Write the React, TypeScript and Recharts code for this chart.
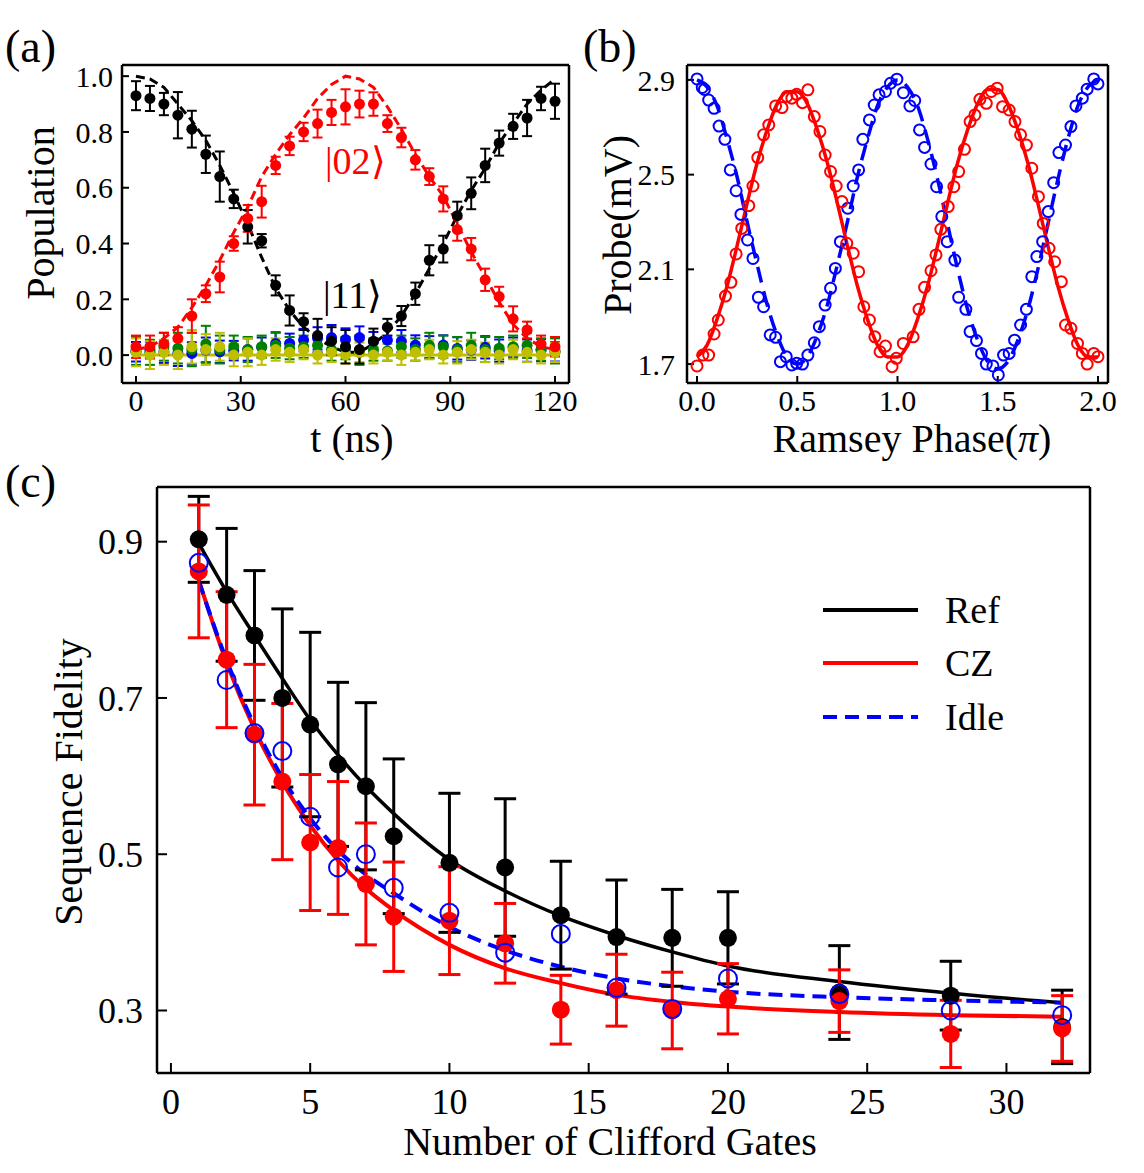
import React from "react";
import { ComposedChart, Line, Scatter, ErrorBar, XAxis, YAxis, Legend } from "recharts";

const FONT = "'Liberation Serif', 'Times New Roman', Times, serif";
const RED = "#ff0000";
const BLUE = "#0000ff";
const GREEN = "#008000";
const OLIVE = "#bfbf00";

// ---- (a) swap oscillation |11> <-> |02>
const tNs = [0, 4, 8, 12, 16, 20, 24, 28, 32, 36, 40, 44, 48, 52, 56, 60, 64, 68, 72, 76, 80, 84, 88, 92, 96, 100, 104, 108, 112, 116, 120];
const pop11 = [0.93, 0.92, 0.9, 0.86, 0.81, 0.72, 0.64, 0.56, 0.46, 0.41, 0.25, 0.16, 0.12, 0.07, 0.05, 0.03, 0.02, 0.05, 0.1, 0.14, 0.22, 0.34, 0.38, 0.5, 0.58, 0.68, 0.76, 0.82, 0.85, 0.92, 0.91];
const err11 = [0.052, 0.045, 0.04, 0.083, 0.066, 0.067, 0.09, 0.033, 0.06, 0.024, 0.036, 0.054, 0.03, 0.06, 0.05, 0.06, 0.05, 0.045, 0.03, 0.036, 0.04, 0.054, 0.048, 0.05, 0.057, 0.06, 0.045, 0.045, 0.065, 0.042, 0.063];
const pop02 = [0.03, 0.03, 0.04, 0.06, 0.14, 0.22, 0.28, 0.4, 0.49, 0.55, 0.68, 0.75, 0.8, 0.83, 0.87, 0.89, 0.9, 0.9, 0.83, 0.78, 0.7, 0.64, 0.56, 0.45, 0.38, 0.27, 0.21, 0.13, 0.09, 0.04, 0.03];
const err02 = [0.04, 0.04, 0.04, 0.04, 0.06, 0.03, 0.055, 0.026, 0.048, 0.057, 0.031, 0.033, 0.033, 0.05, 0.045, 0.063, 0.048, 0.042, 0.03, 0.035, 0.035, 0.03, 0.045, 0.04, 0.04, 0.04, 0.035, 0.045, 0.03, 0.03, 0.035];
const fit11 = [1.0, 0.99, 0.96, 0.9, 0.84, 0.77, 0.68, 0.58, 0.47, 0.35, 0.24, 0.16, 0.1, 0.06, 0.03, 0.01, 0.01, 0.04, 0.08, 0.14, 0.22, 0.31, 0.4, 0.5, 0.59, 0.67, 0.76, 0.83, 0.9, 0.95, 0.99];
const fit02 = [0.02, 0.03, 0.06, 0.1, 0.17, 0.25, 0.34, 0.44, 0.53, 0.64, 0.72, 0.79, 0.85, 0.92, 0.97, 1.0, 0.99, 0.96, 0.89, 0.81, 0.72, 0.64, 0.57, 0.47, 0.37, 0.28, 0.19, 0.11, 0.06, 0.03, 0.02];
const popBlue = [0.012, 0.018, 0.012, 0.006, 0.006, 0.018, 0.012, 0.016, 0.02, 0.028, 0.042, 0.042, 0.054, 0.06, 0.063, 0.056, 0.063, 0.048, 0.054, 0.05, 0.036, 0.028, 0.036, 0.024, 0.018, 0.028, 0.016, 0.028, 0.016, 0.018, 0.012];
const errBlue = [0.035, 0.03, 0.04, 0.045, 0.04, 0.045, 0.04, 0.035, 0.04, 0.035, 0.04, 0.035, 0.04, 0.04, 0.045, 0.04, 0.04, 0.035, 0.04, 0.04, 0.035, 0.04, 0.035, 0.04, 0.035, 0.04, 0.04, 0.035, 0.04, 0.04, 0.035];
const popGreen = [0.015, 0.01, 0.03, 0.025, 0.02, 0.04, 0.02, 0.03, 0.02, 0.03, 0.035, 0.025, 0.03, 0.035, 0.02, 0.025, 0.01, 0.02, 0.015, 0.03, 0.02, 0.035, 0.03, 0.02, 0.035, 0.02, 0.025, 0.03, 0.035, 0.02, 0.015];
const errGreen = [0.05, 0.045, 0.05, 0.055, 0.06, 0.065, 0.05, 0.04, 0.045, 0.04, 0.045, 0.04, 0.04, 0.035, 0.04, 0.04, 0.045, 0.04, 0.035, 0.04, 0.04, 0.045, 0.04, 0.045, 0.045, 0.045, 0.04, 0.04, 0.045, 0.04, 0.045];
const popYellow = [0.01, 0.0, 0.01, 0.0, 0.03, 0.02, 0.03, 0.0, 0.01, 0.0, 0.02, 0.01, 0.02, 0.0, 0.01, 0.0, 0.01, 0.0, 0.01, 0.0, 0.01, 0.02, 0.0, 0.01, 0.02, 0.01, 0.0, 0.02, 0.01, 0.0, 0.01];
const errYellow = [0.05, 0.05, 0.045, 0.05, 0.06, 0.055, 0.05, 0.04, 0.05, 0.035, 0.04, 0.035, 0.035, 0.03, 0.035, 0.03, 0.035, 0.03, 0.03, 0.035, 0.03, 0.035, 0.03, 0.04, 0.035, 0.035, 0.03, 0.035, 0.035, 0.03, 0.035];
const leakT = [0, 120];
const leakFit = [0.0, 0.0];

// ---- (b) Ramsey fringes
const redPhase = [0, 0.029, 0.058, 0.085, 0.106, 0.142, 0.169, 0.195, 0.223, 0.258, 0.279, 0.303, 0.332, 0.358, 0.392, 0.424, 0.448, 0.473, 0.497, 0.526, 0.553, 0.585, 0.613, 0.639, 0.666, 0.694, 0.723, 0.747, 0.779, 0.806, 0.832, 0.86, 0.887, 0.913, 0.94, 0.973, 0.994, 1.029, 1.078, 1.107, 1.135, 1.167, 1.192, 1.216, 1.253, 1.281, 1.305, 1.334, 1.362, 1.386, 1.411, 1.443, 1.468, 1.497, 1.524, 1.557, 1.586, 1.614, 1.643, 1.67, 1.703, 1.727, 1.756, 1.784, 1.817, 1.838, 1.865, 1.898, 1.922, 1.946, 1.979, 2.0];
const redProbe = [1.692, 1.738, 1.738, 1.827, 1.886, 1.987, 2.045, 2.165, 2.273, 2.369, 2.452, 2.572, 2.668, 2.71, 2.79, 2.783, 2.83, 2.823, 2.839, 2.804, 2.858, 2.745, 2.682, 2.583, 2.513, 2.452, 2.386, 2.21, 2.168, 2.09, 1.942, 1.886, 1.815, 1.752, 1.776, 1.689, 1.724, 1.787, 1.815, 1.931, 2.024, 2.094, 2.161, 2.269, 2.365, 2.449, 2.513, 2.607, 2.724, 2.752, 2.818, 2.801, 2.851, 2.865, 2.787, 2.773, 2.724, 2.668, 2.625, 2.527, 2.407, 2.294, 2.189, 2.132, 2.048, 1.865, 1.851, 1.787, 1.745, 1.7, 1.745, 1.731];
const bluePhase = [0, 0.026, 0.037, 0.058, 0.085, 0.11, 0.139, 0.166, 0.195, 0.219, 0.252, 0.279, 0.306, 0.332, 0.365, 0.392, 0.416, 0.445, 0.473, 0.497, 0.526, 0.553, 0.585, 0.61, 0.639, 0.666, 0.69, 0.715, 0.752, 0.779, 0.806, 0.827, 0.86, 0.884, 0.908, 0.94, 0.965, 0.997, 1.029, 1.062, 1.086, 1.11, 1.135, 1.167, 1.195, 1.221, 1.248, 1.286, 1.305, 1.341, 1.362, 1.394, 1.419, 1.443, 1.476, 1.503, 1.529, 1.557, 1.584, 1.614, 1.643, 1.67, 1.695, 1.724, 1.752, 1.779, 1.805, 1.838, 1.865, 1.89, 1.922, 1.946, 1.979, 2.0];
const blueProbe = [2.904, 2.868, 2.86, 2.815, 2.78, 2.705, 2.649, 2.52, 2.432, 2.332, 2.224, 2.146, 1.982, 1.942, 1.823, 1.813, 1.71, 1.731, 1.696, 1.703, 1.7, 1.738, 1.79, 1.858, 1.949, 2.02, 2.104, 2.217, 2.358, 2.452, 2.52, 2.649, 2.731, 2.794, 2.837, 2.851, 2.886, 2.903, 2.846, 2.79, 2.813, 2.689, 2.615, 2.545, 2.449, 2.323, 2.217, 2.139, 1.982, 1.931, 1.837, 1.799, 1.745, 1.7, 1.692, 1.654, 1.738, 1.745, 1.801, 1.865, 1.931, 2.069, 2.154, 2.217, 2.344, 2.466, 2.593, 2.625, 2.703, 2.79, 2.823, 2.861, 2.904, 2.883];
const fitPhase = [0, 0.05, 0.1, 0.15, 0.2, 0.25, 0.3, 0.35, 0.4, 0.45, 0.5, 0.55, 0.6, 0.65, 0.7, 0.75, 0.8, 0.85, 0.9, 0.95, 1.0, 1.05, 1.1, 1.15, 1.2, 1.25, 1.3, 1.35, 1.4, 1.45, 1.5, 1.55, 1.6, 1.65, 1.7, 1.75, 1.8, 1.85, 1.9, 1.95, 2.0];
const redFit = [1.73, 1.78, 1.89, 2.03, 2.2, 2.38, 2.55, 2.69, 2.8, 2.85, 2.85, 2.8, 2.69, 2.55, 2.38, 2.2, 2.03, 1.89, 1.78, 1.73, 1.73, 1.78, 1.89, 2.03, 2.2, 2.38, 2.55, 2.69, 2.8, 2.86, 2.86, 2.8, 2.69, 2.55, 2.38, 2.2, 2.03, 1.89, 1.78, 1.73, 1.73];
const blueFit = [2.9, 2.87, 2.79, 2.65, 2.49, 2.3, 2.12, 1.95, 1.82, 1.73, 1.7, 1.73, 1.82, 1.95, 2.12, 2.3, 2.49, 2.65, 2.79, 2.87, 2.9, 2.87, 2.79, 2.65, 2.48, 2.29, 2.1, 1.93, 1.8, 1.71, 1.68, 1.71, 1.8, 1.93, 2.1, 2.29, 2.48, 2.65, 2.79, 2.87, 2.9];

// ---- (c) randomized benchmarking
const gates = [1, 2, 3, 4, 5, 6, 7, 8, 10, 12, 14, 16, 18, 20, 24, 28, 32];
const refF = [0.903, 0.832, 0.78, 0.7, 0.666, 0.615, 0.587, 0.523, 0.489, 0.483, 0.422, 0.394, 0.393, 0.393, 0.323, 0.319, 0.279];
const refErr = [0.055, 0.085, 0.083, 0.114, 0.118, 0.105, 0.107, 0.099, 0.089, 0.088, 0.069, 0.073, 0.062, 0.059, 0.06, 0.044, 0.047];
const czF = [0.862, 0.749, 0.653, 0.593, 0.515, 0.508, 0.462, 0.42, 0.415, 0.386, 0.301, 0.326, 0.3, 0.315, 0.312, 0.27, 0.277];
const czErr = [0.085, 0.087, 0.09, 0.1, 0.087, 0.085, 0.078, 0.07, 0.069, 0.051, 0.044, 0.046, 0.049, 0.045, 0.04, 0.043, 0.042];
const idleF = [0.873, 0.723, 0.655, 0.632, 0.548, 0.483, 0.5, 0.457, 0.425, 0.374, 0.398, 0.329, 0.302, 0.341, 0.321, 0.3, 0.294];
const refFit = [0.898, 0.836, 0.78, 0.725, 0.672, 0.627, 0.587, 0.552, 0.493, 0.453, 0.421, 0.396, 0.375, 0.357, 0.337, 0.322, 0.31];
const czFit = [0.851, 0.745, 0.66, 0.592, 0.537, 0.492, 0.456, 0.428, 0.384, 0.354, 0.335, 0.32, 0.311, 0.305, 0.298, 0.294, 0.292];
const idleFit = [0.85, 0.748, 0.665, 0.598, 0.546, 0.505, 0.474, 0.45, 0.407, 0.377, 0.356, 0.341, 0.331, 0.324, 0.317, 0.313, 0.31];

type Pt = { x: number; y: number; e?: number };
const pts = (xs: number[], ys: number[], es?: number[]): Pt[] =>
  xs.map((x, i) => (es ? { x, y: ys[i], e: es[i] } : { x, y: ys[i] }));

const axisLine = { stroke: "#000", strokeWidth: 2.5 };
const tickLine = { stroke: "#000", strokeWidth: 2 };

const disc = (r: number, fill: string) => (p: any) => <circle cx={p.cx} cy={p.cy} r={r} fill={fill} />;
const ring = (r: number, stroke: string, w: number) => (p: any) => (
  <circle cx={p.cx} cy={p.cy} r={r} fill="none" stroke={stroke} strokeWidth={w} />
);

// the two mirrored axes that close the box and carry inward ticks
function boxAxes(xDomain: number[], xTicks: number[], yDomain: number[], yTicks: number[], len: number, extra?: any) {
  return [
    <XAxis key="top" xAxisId="top" orientation="top" type="number" dataKey="x" domain={xDomain} ticks={xTicks} interval={0}
      allowDataOverflow height={1} tick={false} tickSize={-len} axisLine={axisLine} tickLine={tickLine} label={extra} />,
    <YAxis key="right" yAxisId="right" orientation="right" type="number" domain={yDomain} ticks={yTicks} interval={0}
      allowDataOverflow width={1} tick={false} tickSize={-len} axisLine={axisLine} tickLine={tickLine} />,
  ];
}

const lineProps = { dot: false, activeDot: false, isAnimationActive: false, legendType: "none" as const };

function PanelA() {
  const tick = { fill: "#000", fontSize: 30, fontFamily: FONT };
  const kets = {
    content: () => (
      <g fontFamily={FONT}>
        <text x={325} y={174} fontSize={38} fill={RED}>|02⟩</text>
        <text x={323} y={308} fontSize={38} fill="#000">|11⟩</text>
      </g>
    ),
  };
  return (
    <ComposedChart width={600} height={470} margin={{ top: 64, right: 30, bottom: 0, left: 32 }}>
      <XAxis type="number" dataKey="x" domain={[-4, 124]} ticks={[0, 30, 60, 90, 120]} interval={0} allowDataOverflow
        height={87} tickSize={-7} tickMargin={14} axisLine={axisLine} tickLine={tickLine} tick={tick}
        label={{ content: () => <text x={352} y={452} textAnchor="middle" fontSize={40} fontFamily={FONT}>t (ns)</text> }} />
      <YAxis type="number" domain={[-0.1, 1.04]} ticks={[0, 0.2, 0.4, 0.6, 0.8, 1.0]} interval={0} allowDataOverflow
        width={90} tickSize={-7} tickMargin={16} axisLine={axisLine} tickLine={tickLine} tick={tick}
        tickFormatter={(v: number) => v.toFixed(1)}
        label={{ content: () => <text x={40} y={213} transform="rotate(-90 40 213)" textAnchor="middle" dominantBaseline="central" fontSize={40} fontFamily={FONT}>Population</text> }} />
      {boxAxes([-4, 124], [0, 30, 60, 90, 120], [-0.1, 1.04], [0, 0.2, 0.4, 0.6, 0.8, 1.0], 7, kets)}
      <Scatter data={pts(tNs, popBlue, errBlue)} dataKey="y" shape={disc(5.5, BLUE)} isAnimationActive={false}>
        <ErrorBar dataKey="e" direction="y" width={5} stroke={BLUE} strokeWidth={2} />
      </Scatter>
      <Scatter data={pts(tNs, popGreen, errGreen)} dataKey="y" shape={disc(5.5, GREEN)} isAnimationActive={false}>
        <ErrorBar dataKey="e" direction="y" width={5} stroke={GREEN} strokeWidth={2} />
      </Scatter>
      <Scatter data={pts(tNs, popYellow, errYellow)} dataKey="y" shape={disc(5.5, OLIVE)} isAnimationActive={false}>
        <ErrorBar dataKey="e" direction="y" width={5} stroke={OLIVE} strokeWidth={2} />
      </Scatter>
      <Line data={pts(leakT, leakFit)} dataKey="y" type="linear" stroke={OLIVE} strokeWidth={3} {...lineProps} />
      <Line data={pts(tNs, fit11)} dataKey="y" type="linear" stroke="#000" strokeWidth={3} strokeDasharray="9 5" {...lineProps} />
      <Line data={pts(tNs, fit02)} dataKey="y" type="linear" stroke={RED} strokeWidth={3} strokeDasharray="9 5" {...lineProps} />
      <Scatter data={pts(tNs, pop11, err11)} dataKey="y" shape={disc(5.5, "#000")} isAnimationActive={false}>
        <ErrorBar dataKey="e" direction="y" width={5} stroke="#000" strokeWidth={2} />
      </Scatter>
      <Scatter data={pts(tNs, pop02, err02)} dataKey="y" shape={disc(5.5, RED)} isAnimationActive={false}>
        <ErrorBar dataKey="e" direction="y" width={5} stroke={RED} strokeWidth={2} />
      </Scatter>
    </ComposedChart>
  );
}

function PanelB() {
  const tick = { fill: "#000", fontSize: 30, fontFamily: FONT };
  const xt = [0, 0.5, 1.0, 1.5, 2.0];
  const yt = [1.7, 2.1, 2.5, 2.9];
  return (
    <ComposedChart width={564} height={470} margin={{ top: 64, right: 35, bottom: 0, left: 37 }}>
      <XAxis type="number" dataKey="x" domain={[-0.05, 2.05]} ticks={xt} interval={0} allowDataOverflow
        height={87} tickSize={-7} tickMargin={14} axisLine={axisLine} tickLine={tickLine} tick={tick}
        tickFormatter={(v: number) => v.toFixed(1)}
        label={{ content: () => (
          <text x={332} y={452} textAnchor="middle" fontSize={40} fontFamily={FONT}>
            Ramsey Phase(<tspan fontStyle="italic">π</tspan>)
          </text>
        ) }} />
      <YAxis type="number" domain={[1.62, 2.963]} ticks={yt} interval={0} allowDataOverflow
        width={70} tickSize={-7} tickMargin={19} axisLine={axisLine} tickLine={tickLine} tick={tick}
        tickFormatter={(v: number) => v.toFixed(1)}
        label={{ content: () => <text x={37} y={225} transform="rotate(-90 37 225)" textAnchor="middle" dominantBaseline="central" fontSize={40} fontFamily={FONT}>Probe(mV)</text> }} />
      {boxAxes([-0.05, 2.05], xt, [1.62, 2.963], yt, 7)}
      <Line data={pts(fitPhase, blueFit)} dataKey="y" type="monotone" stroke={BLUE} strokeWidth={3.5} strokeDasharray="16 9" {...lineProps} />
      <Line data={pts(fitPhase, redFit)} dataKey="y" type="monotone" stroke={RED} strokeWidth={3.5} {...lineProps} />
      <Scatter data={pts(bluePhase, blueProbe)} dataKey="y" shape={ring(5.5, BLUE, 2)} isAnimationActive={false} />
      <Scatter data={pts(redPhase, redProbe)} dataKey="y" shape={ring(5.5, RED, 2)} isAnimationActive={false} />
    </ComposedChart>
  );
}

const legendRows = [
  { name: "Ref", color: "#000", dash: undefined as string | undefined },
  { name: "CZ", color: RED, dash: undefined },
  { name: "Idle", color: BLUE, dash: "14 8" },
];

function RbLegend() {
  return (
    <div style={{ fontFamily: FONT, fontSize: 38 }}>
      {legendRows.map((r) => (
        <div key={r.name} style={{ display: "flex", alignItems: "center", height: 53.5 }}>
          <svg width={95} height={10}>
            <line x1={0} y1={5} x2={95} y2={5} stroke={r.color} strokeWidth={4} strokeDasharray={r.dash} />
          </svg>
          <span style={{ marginLeft: 27, lineHeight: 1 }}>{r.name}</span>
        </div>
      ))}
    </div>
  );
}

function PanelC() {
  const tick = { fill: "#000", fontSize: 36, fontFamily: FONT };
  const xt = [0, 5, 10, 15, 20, 25, 30];
  const yt = [0.3, 0.5, 0.7, 0.9];
  return (
    <ComposedChart width={1144} height={700} margin={{ top: 16, right: 53, bottom: 0, left: 57 }}>
      <XAxis type="number" dataKey="x" domain={[-0.5, 33]} ticks={xt} interval={0} allowDataOverflow
        height={97} tickSize={-10} tickMargin={25} axisLine={axisLine} tickLine={tickLine} tick={tick}
        label={{ content: () => <text x={610} y={685} textAnchor="middle" fontSize={40} fontFamily={FONT}>Number of Clifford Gates</text> }} />
      <YAxis type="number" domain={[0.22, 0.97]} ticks={yt} interval={0} allowDataOverflow
        width={100} tickSize={-10} tickMargin={24} axisLine={axisLine} tickLine={tickLine} tick={tick}
        tickFormatter={(v: number) => v.toFixed(1)}
        label={{ content: () => <text x={68} y={312} transform="rotate(-90 68 312)" textAnchor="middle" dominantBaseline="central" fontSize={40} fontFamily={FONT}>Sequence Fidelity</text> }} />
      {boxAxes([-0.5, 33], xt, [0.22, 0.97], yt, 10)}
      <Legend layout="horizontal" verticalAlign="middle" align="center" content={() => <RbLegend />}
        wrapperStyle={{ left: 823, top: 113, width: 220 }} />
      <Line data={pts(gates, refFit)} dataKey="y" type="monotone" stroke="#000" strokeWidth={3.5} {...lineProps} />
      <Line data={pts(gates, czFit)} dataKey="y" type="monotone" stroke={RED} strokeWidth={4} {...lineProps} />
      <Line data={pts(gates, idleFit)} dataKey="y" type="monotone" stroke={BLUE} strokeWidth={4} strokeDasharray="14 8" {...lineProps} />
      <Scatter data={pts(gates, refF, refErr)} dataKey="y" shape={disc(9, "#000")} isAnimationActive={false}>
        <ErrorBar dataKey="e" direction="y" width={11} stroke="#000" strokeWidth={3} />
      </Scatter>
      <Scatter data={pts(gates, czF, czErr)} dataKey="y" shape={disc(9, RED)} isAnimationActive={false}>
        <ErrorBar dataKey="e" direction="y" width={11} stroke={RED} strokeWidth={3} />
      </Scatter>
      <Scatter data={pts(gates, idleF)} dataKey="y" shape={ring(9, BLUE, 2)} isAnimationActive={false} />
    </ComposedChart>
  );
}

export default function App() {
  return (
    <div style={{ position: "absolute", left: 0, top: 0, width: 1144, height: 1173, background: "#fff", fontFamily: FONT }}>
      <div style={{ position: "absolute", left: 0, top: 0 }}><PanelA /></div>
      <div style={{ position: "absolute", left: 580, top: 0 }}><PanelB /></div>
      <div style={{ position: "absolute", left: 0, top: 470 }}><PanelC /></div>
      <svg width={1144} height={1173} style={{ position: "absolute", left: 0, top: 0, pointerEvents: "none" }}>
        <g fontFamily={FONT} fontSize={46} fill="#000">
          <text x={5} y={62}>(a)</text>
          <text x={583} y={62}>(b)</text>
          <text x={5} y={497}>(c)</text>
        </g>
      </svg>
    </div>
  );
}
